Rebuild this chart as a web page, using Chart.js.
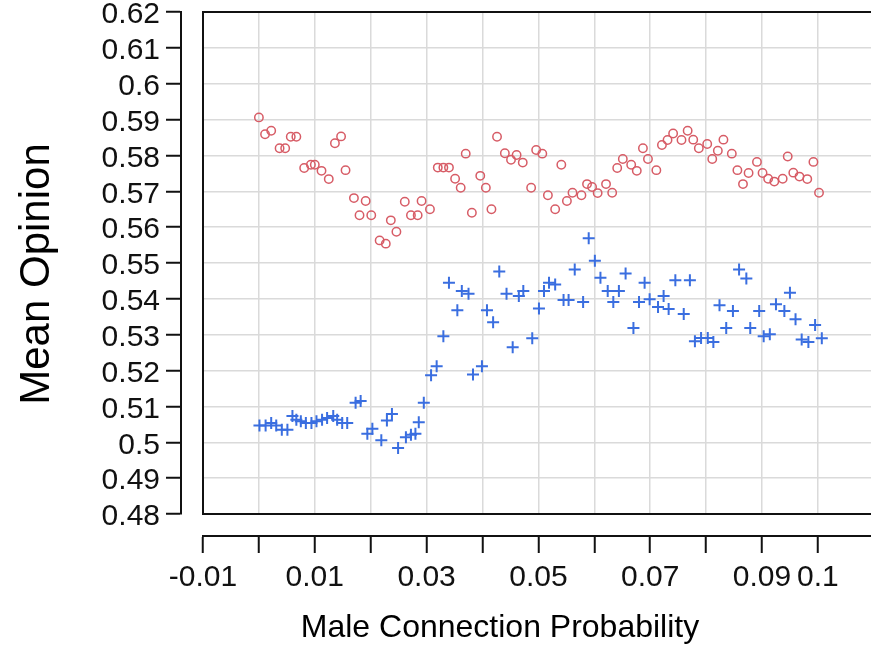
<!DOCTYPE html>
<html>
<head>
<meta charset="utf-8">
<script src="https://cdn.jsdelivr.net/npm/chart.js@4.4.1/dist/chart.umd.min.js"></script>
<style>
  html, body { margin: 0; padding: 0; background: #fff; }
  canvas { display: block; }
</style>
</head>
<body>
<canvas id="opinion" width="871" height="645"></canvas>
<script>
// axis ticks and their printed labels
const xTicks = [-0.01, 0, 0.01, 0.02, 0.03, 0.04, 0.05, 0.06, 0.07, 0.08, 0.09, 0.1];
const xTickLabels = ["-0.01", "", "0.01", "", "0.03", "", "0.05", "", "0.07", "", "0.09", "0.1"];
const yTicks = [0.48, 0.49, 0.5, 0.51, 0.52, 0.53, 0.54, 0.55, 0.56, 0.57, 0.58, 0.59, 0.6, 0.61, 0.62];
const yTickLabels = ["0.48", "0.49", "0.5", "0.51", "0.52", "0.53", "0.54", "0.55", "0.56", "0.57", "0.58", "0.59", "0.6", "0.61", "0.62"];

const xTitle = "Male Connection Probability";
const yTitle = "Mean Opinion";

// circles
const redX = [0.0000, 0.0011, 0.0022, 0.0037, 0.0047, 0.0057, 0.0067, 0.0081, 0.0093, 0.0100,
  0.0112, 0.0125, 0.0136, 0.0147, 0.0155, 0.0170, 0.0180, 0.0191, 0.0201, 0.0216,
  0.0227, 0.0236, 0.0246, 0.0261, 0.0272, 0.0284, 0.0291, 0.0306, 0.0320, 0.0330,
  0.0340, 0.0351, 0.0361, 0.0370, 0.0381, 0.0396, 0.0406, 0.0416, 0.0426, 0.0440,
  0.0451, 0.0461, 0.0472, 0.0487, 0.0496, 0.0507, 0.0517, 0.0530, 0.0541, 0.0551,
  0.0561, 0.0577, 0.0587, 0.0596, 0.0606, 0.0621, 0.0632, 0.0641, 0.0651, 0.0666,
  0.0676, 0.0687, 0.0696, 0.0711, 0.0721, 0.0731, 0.0741, 0.0756, 0.0767, 0.0777,
  0.0787, 0.0802, 0.0811, 0.0821, 0.0831, 0.0846, 0.0856, 0.0866, 0.0876, 0.0891,
  0.0901, 0.0911, 0.0922, 0.0937, 0.0946, 0.0956, 0.0967, 0.0981, 0.0992, 0.1002];
const redY = [0.5906, 0.5859, 0.5869, 0.5820, 0.5820, 0.5852, 0.5852, 0.5765, 0.5774, 0.5774,
  0.5757, 0.5734, 0.5834, 0.5853, 0.5759, 0.5681, 0.5633, 0.5673, 0.5633, 0.5563,
  0.5554, 0.5619, 0.5587, 0.5671, 0.5633, 0.5633, 0.5673, 0.5650, 0.5766, 0.5766,
  0.5766, 0.5735, 0.5710, 0.5805, 0.5640, 0.5743, 0.5710, 0.5650, 0.5852, 0.5806,
  0.5788, 0.5801, 0.5780, 0.5710, 0.5815, 0.5805, 0.5689, 0.5650, 0.5774, 0.5673,
  0.5696, 0.5689, 0.5720, 0.5712, 0.5695, 0.5720, 0.5696, 0.5765, 0.5790, 0.5774,
  0.5757, 0.5820, 0.5790, 0.5759, 0.5829, 0.5843, 0.5861, 0.5843, 0.5869, 0.5844,
  0.5820, 0.5832, 0.5790, 0.5813, 0.5844, 0.5805, 0.5759, 0.5720, 0.5751, 0.5782,
  0.5751, 0.5735, 0.5727, 0.5735, 0.5797, 0.5752, 0.5741, 0.5734, 0.5782, 0.5696];

// crosses
const blueX = [0.0001, 0.0012, 0.0022, 0.0031, 0.0041, 0.0051, 0.0060, 0.0067, 0.0075, 0.0084,
  0.0094, 0.0103, 0.0113, 0.0122, 0.0133, 0.0140, 0.0149, 0.0158, 0.0173, 0.0182,
  0.0194, 0.0203, 0.0219, 0.0229, 0.0238, 0.0249, 0.0263, 0.0272, 0.0280, 0.0286,
  0.0295, 0.0308, 0.0318, 0.0330, 0.0340, 0.0355, 0.0363, 0.0375, 0.0383, 0.0399,
  0.0408, 0.0419, 0.0430, 0.0443, 0.0454, 0.0465, 0.0473, 0.0489, 0.0501, 0.0510,
  0.0519, 0.0530, 0.0545, 0.0554, 0.0565, 0.0580, 0.0590, 0.0601, 0.0611, 0.0624,
  0.0634, 0.0644, 0.0656, 0.0670, 0.0680, 0.0690, 0.0699, 0.0714, 0.0724, 0.0733,
  0.0745, 0.0760, 0.0771, 0.0780, 0.0791, 0.0803, 0.0813, 0.0824, 0.0836, 0.0848,
  0.0859, 0.0872, 0.0879, 0.0895, 0.0903, 0.0914, 0.0925, 0.0940, 0.0950, 0.0960,
  0.0971, 0.0983, 0.0995, 0.1007];
const blueY = [0.5047, 0.5047, 0.5054, 0.5047, 0.5035, 0.5035, 0.5073, 0.5063, 0.5059, 0.5054,
  0.5054, 0.5059, 0.5063, 0.5068, 0.5073, 0.5063, 0.5054, 0.5054, 0.5110, 0.5115,
  0.5024, 0.5038, 0.5006, 0.5061, 0.5079, 0.4984, 0.5014, 0.5021, 0.5024, 0.5056,
  0.5110, 0.5187, 0.5212, 0.5296, 0.5445, 0.5368, 0.5422, 0.5414, 0.5189, 0.5212,
  0.5368, 0.5335, 0.5476, 0.5414, 0.5265, 0.5408, 0.5422, 0.5290, 0.5373, 0.5422,
  0.5445, 0.5440, 0.5397, 0.5397, 0.5482, 0.5391, 0.5569, 0.5506, 0.5459, 0.5422,
  0.5391, 0.5422, 0.5471, 0.5319, 0.5391, 0.5445, 0.5399, 0.5377, 0.5408, 0.5372,
  0.5452, 0.5358, 0.5452, 0.5282, 0.5291, 0.5291, 0.5280, 0.5382, 0.5319, 0.5366,
  0.5482, 0.5457, 0.5319, 0.5366, 0.5296, 0.5301, 0.5385, 0.5366, 0.5417, 0.5343,
  0.5287, 0.5280, 0.5327, 0.5290];

const FONT = '"Liberation Sans", Arial, sans-serif';
const INK = '#111';
const GRID = '#dadada';
const NONE = 'rgba(0,0,0,0)';
const RED = '#d75c66';
const BLUE = '#3a6ee0';

function points(xs, ys) {
  return xs.map((x, i) => ({ x, y: ys[i] }));
}

// empty axis used only to leave a gap and draw one side of the plot frame
function spacer(axis, position, size) {
  return {
    type: 'linear', axis, position, weight: 0,
    grid: { display: false, drawTicks: false },
    ticks: { display: false },
    border: { display: true, color: INK, width: 2 },
    afterFit: s => {
      if (axis === 'x') s.height = size; else s.width = size;
      s.paddingLeft = s.paddingRight = s.paddingTop = s.paddingBottom = 0;
    }
  };
}

// axis titles sit off-centre, so they are drawn here instead of by the scales
const axisTitles = {
  id: 'axisTitles',
  afterDraw(chart) {
    const { ctx } = chart;
    ctx.save();
    ctx.fillStyle = '#000';
    ctx.textAlign = 'center';
    ctx.textBaseline = 'middle';
    ctx.font = '32px ' + FONT;
    ctx.fillText(xTitle, 500, 628);
    ctx.translate(37, 274);
    ctx.rotate(-Math.PI / 2);
    ctx.font = '42px ' + FONT;
    ctx.fillText(yTitle, 0, 0);
    ctx.restore();
  }
};

new Chart(document.getElementById('opinion'), {
  type: 'scatter',
  data: {
    datasets: [
      {
        label: 'o',
        data: points(redX, redY),
        xAxisID: 'x', yAxisID: 'y',
        pointStyle: 'circle',
        pointRadius: 4.2,
        pointBorderWidth: 1.5,
        borderColor: RED,
        backgroundColor: NONE
      },
      {
        label: '+',
        data: points(blueX, blueY),
        xAxisID: 'x', yAxisID: 'y',
        pointStyle: 'cross',
        pointRadius: 6,
        pointBorderWidth: 2,
        borderColor: BLUE,
        backgroundColor: BLUE
      }
    ]
  },
  options: {
    responsive: false,
    animation: false,
    layout: { autoPadding: false, padding: { top: 12, left: 0, right: 0, bottom: 0 } },
    plugins: { legend: { display: false }, tooltip: { enabled: false } },
    scales: {
      x: {
        type: 'linear', axis: 'x', position: 'bottom', weight: 1,
        min: -0.01, max: 0.1095,
        afterBuildTicks: s => { s.ticks = xTicks.map(v => ({ value: v })); },
        afterFit: s => { s.height = 109; s.paddingLeft = 0; s.paddingRight = 0; },
        grid: {
          color: c => (c.index === 0 ? NONE : GRID),
          lineWidth: 1.5,
          tickLength: 17,
          tickColor: INK,
          tickWidth: 2
        },
        border: { display: true, color: INK, width: 2 },
        ticks: {
          autoSkip: false, maxRotation: 0, minRotation: 0,
          padding: 7, color: INK,
          font: { family: FONT, size: 30 },
          callback: (v, i) => xTickLabels[i]
        }
      },
      y: {
        type: 'linear', axis: 'y', position: 'left', weight: 1,
        min: 0.48, max: 0.62,
        afterBuildTicks: s => { s.ticks = yTicks.map(v => ({ value: v })); },
        afterFit: s => { s.width = 181; s.paddingTop = 0; s.paddingBottom = 0; },
        grid: {
          color: c => (c.index === 0 || c.index === yTicks.length - 1 ? NONE : GRID),
          lineWidth: 1.5,
          tickLength: 15,
          tickColor: INK,
          tickWidth: 2
        },
        border: { display: true, color: INK, width: 2 },
        ticks: {
          autoSkip: false,
          padding: 6, labelOffset: 3, color: INK,
          font: { family: FONT, size: 30 },
          callback: (v, i) => yTickLabels[i]
        }
      },
      xGap: spacer('x', 'bottom', 22),
      yGap: spacer('y', 'left', 22),
      xTop: spacer('x', 'top', 0)
    }
  },
  plugins: [axisTitles]
});
</script>
</body>
</html>
